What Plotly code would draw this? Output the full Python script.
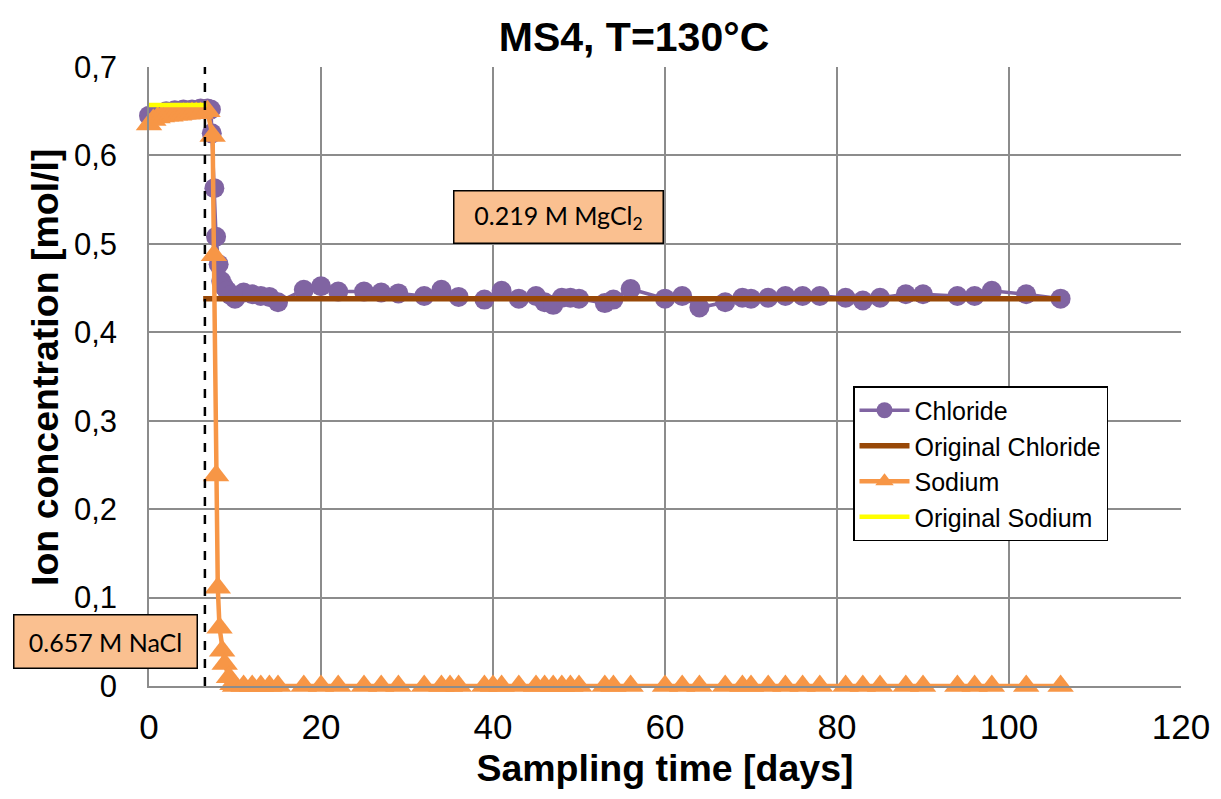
import plotly.graph_objects as go

# ---- data ----
chloride_t = [0, 1, 2, 3, 4, 5, 6, 6.8, 7.2, 7.3, 7.6, 7.8, 8.1, 8.4, 8.7, 9.1, 9.5, 10, 11, 12, 13, 14, 15,
              18, 20, 22, 25, 27, 29, 32, 34, 36, 39, 41, 43, 45, 46, 47, 48, 49, 50, 53, 54, 56,
              60, 62, 64, 67, 69, 70, 72, 74, 76, 78, 81, 83, 85, 88, 90, 94, 96, 98, 102, 106]
chloride_c = [0.645, 0.648, 0.650, 0.651, 0.652, 0.652, 0.653, 0.653, 0.652, 0.625, 0.563, 0.508, 0.477,
              0.458, 0.452, 0.447, 0.442, 0.438, 0.445, 0.443, 0.441, 0.44, 0.434,
              0.448, 0.452, 0.446, 0.446, 0.445, 0.444, 0.441, 0.448, 0.440, 0.437, 0.447, 0.438,
              0.441, 0.434, 0.431, 0.439, 0.439, 0.438, 0.433, 0.437, 0.449,
              0.438, 0.441, 0.428, 0.434, 0.439, 0.438, 0.439, 0.441, 0.441, 0.441, 0.439, 0.436,
              0.439, 0.443, 0.443, 0.441, 0.441, 0.447, 0.443, 0.438]

sodium_t = [0, 0.5, 1, 1.5, 2, 2.5, 3, 3.5, 4, 4.5, 5, 5.5, 6, 6.8, 7.4, 7.55, 7.8, 8.0, 8.2, 8.5, 8.8, 9.3, 9.7,
            10, 11, 12, 13, 14, 15, 18, 20, 22, 25, 27, 29, 32, 34, 35, 36, 39, 40, 41, 43, 45, 46, 47,
            48, 49, 50, 53, 54, 56, 60, 62, 64, 67, 69, 70, 72, 74, 76, 78, 81, 83, 85, 88, 90, 94,
            96, 98, 102, 106]
sodium_c = [0.635, 0.640, 0.643, 0.644, 0.645, 0.645, 0.646, 0.646, 0.647, 0.647, 0.648, 0.648, 0.648, 0.650,
            0.622, 0.487, 0.238, 0.111, 0.066, 0.040, 0.025, 0.010, 0.002] + [0.0] * 49

orig_chloride_t = [6.3, 106]
orig_chloride_c = [0.438, 0.438]
orig_sodium_t = [0, 6.7]
orig_sodium_c = [0.657, 0.657]

change_day = 6.5

title = "MS4, T=130°C"
x_title = "Sampling time [days]"
y_title = "Ion concentration [mol/l]"
label_mgcl2 = "0.219 M MgCl<sub>2</sub>"
label_nacl = "0.657 M NaCl"

purple = "#8064A2"
brown = "#984807"
orange = "#F79646"
yellow = "#FFFF00"
box_fill = "#FAC090"
grid = "#8c8c8c"

W, H = 1221, 799
L, R, T, B = 149, 40, 67, 113
PW, PH = W - L - R, H - T - B


def px(xp):
    return (xp - L) / PW


def py(yp):
    return (H - B - yp) / PH


fig = go.Figure()
fig.add_trace(go.Scatter(x=chloride_t, y=chloride_c, name="Chloride", mode="lines+markers",
                         line=dict(color=purple, width=3.5), cliponaxis=False,
                         marker=dict(symbol="circle", size=20, color=purple)))
fig.add_trace(go.Scatter(x=orig_chloride_t, y=orig_chloride_c, name="Original Chloride", mode="lines",
                         line=dict(color=brown, width=5.5)))
fig.add_trace(go.Scatter(x=sodium_t, y=sodium_c, name="Sodium", mode="lines+markers",
                         line=dict(color=orange, width=4.5), cliponaxis=False,
                         marker=dict(symbol="triangle-up", size=23, color=orange)))
fig.add_trace(go.Scatter(x=orig_sodium_t, y=orig_sodium_c, name="Original Sodium", mode="lines",
                         line=dict(color=yellow, width=4.5)))

fig.add_shape(type="line", x0=change_day, x1=change_day, y0=0, y1=1, xref="x", yref="paper",
              line=dict(color="black", width=2.5, dash="dash"), layer="above")

ann_font = dict(family="Lato, Calibri, sans-serif", size=25, color="black")
fig.add_annotation(x=px(558), y=py(216.5), xref="paper", yref="paper", xanchor="center", yanchor="middle",
                   text=label_mgcl2, showarrow=False, font=ann_font,
                   width=206, height=49, borderpad=1,
                   bgcolor=box_fill, bordercolor="black", borderwidth=1.5)
fig.add_annotation(x=px(105), y=py(641), xref="paper", yref="paper", xanchor="center", yanchor="middle",
                   text=label_nacl, showarrow=False, font=ann_font,
                   width=180, height=50, borderpad=1,
                   bgcolor=box_fill, bordercolor="black", borderwidth=1.5)
# y-axis title placed as annotation for precise position
fig.add_annotation(x=px(45), y=py(367), xref="paper", yref="paper", xanchor="center", yanchor="middle",
                   text="<b>" + y_title + "</b>", textangle=-90, showarrow=False,
                   font=dict(size=37.5, color="black"))

fig.update_layout(
    width=W, height=H,
    margin=dict(l=L, r=R, t=T, b=B, autoexpand=False),
    paper_bgcolor="white", plot_bgcolor="white",
    separators=",.",
    font=dict(family="Arial, Liberation Sans, sans-serif", color="black"),
    title=dict(text="<b>" + title + "</b>", x=634 / W, xanchor="center",
               y=1 - 37 / H, yanchor="middle", font=dict(size=41)),
    xaxis=dict(range=[0, 120], dtick=20, tick0=0, showgrid=True, gridcolor=grid, gridwidth=1.5,
               showline=True, linecolor=grid, linewidth=1.5, zeroline=False,
               ticks="outside", ticklen=9, tickcolor="rgba(0,0,0,0)", tickfont=dict(size=35),
               automargin=False,
               title=dict(text="<b>" + x_title + "</b>", font=dict(size=37.5), standoff=10)),
    yaxis=dict(range=[0, 0.7], dtick=0.1, tick0=0, showgrid=True, gridcolor=grid, gridwidth=1.5,
               showline=True, linecolor=grid, linewidth=1.5, zeroline=False,
               ticks="outside", ticklen=24, tickcolor="rgba(0,0,0,0)", tickfont=dict(size=31),
               automargin=False),
    legend=dict(x=px(853), y=py(386), xanchor="left", yanchor="top",
                bgcolor="white", bordercolor="black", borderwidth=1.5,
                font=dict(size=25), tracegroupgap=0, itemwidth=50),
    showlegend=True,
)

fig.write_html("out.html")
